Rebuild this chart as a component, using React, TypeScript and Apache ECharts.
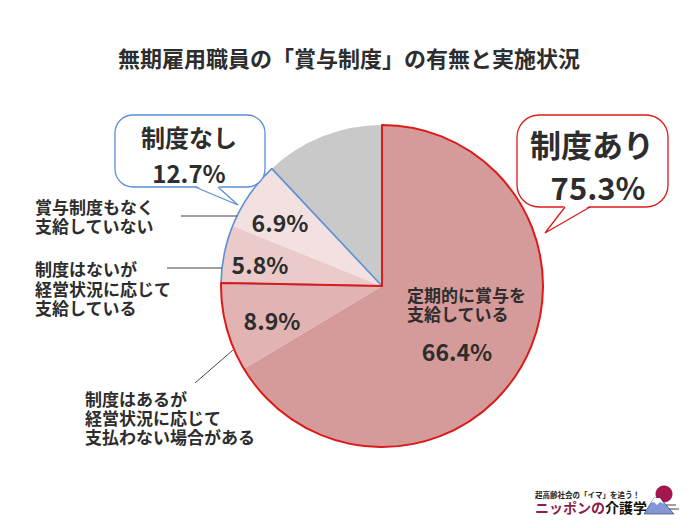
import React, { useEffect, useRef } from "react";
import * as echarts from "echarts";

const titleText = "無期雇用職員の「賞与制度」の有無と実施状況";
const categories = [
  "定期的に賞与を\n支給している",
  "制度はあるが\n経営状況に応じて\n支払わない場合がある",
  "制度はないが\n経営状況に応じて\n支給している",
  "賞与制度もなく\n支給していない",
  "無回答",
];
const values = [66.4, 8.9, 5.8, 6.9, 12.0];
const sliceColors = ["#d59a9a", "#e2b3b3", "#ebcaca", "#f3e0e0", "#c9c9c9"];
const groupNames = ["制度あり", "制度なし", "その他"];
const groupValues = [75.3, 12.7, 12.0];

const FONT = '"Noto Sans CJK JP", "Noto Sans", sans-serif';
const DARK = "#2d2d2d";
const RED = "#dd1a1a";
const BLUE = "#5b8fd6";

export default function App() {
  const ref = useRef<HTMLDivElement>(null);
  useEffect(() => {
    if (!ref.current) return;
    const chart = echarts.init(ref.current, null, { renderer: "svg" });
    const radius = 161;
    const pct = (v: number) => v.toFixed(1) + "%";

    const txt = (text: string, x: number, y: number, size: number, align = "left", fill = DARK) => ({
      type: "text",
      z: 100,
      style: {
        text,
        x,
        y,
        fontSize: size,
        fontWeight: "bold",
        fontFamily: FONT,
        fill,
        align,
        verticalAlign: "middle",
      },
    });
    // multi-line block: one text per line, centred on yc
    const block = (text: string, x: number, yc: number, size: number, lh: number, align = "left") => {
      const lines = text.split("\n");
      const y0 = yc - ((lines.length - 1) * lh) / 2;
      return lines.map((l, i) => txt(l, x, y0 + i * lh, size, align));
    };
    const seg = (x1: number, y1: number, x2: number, y2: number) => ({
      type: "line",
      z: 100,
      shape: { x1, y1, x2, y2 },
      style: { stroke: "#444", lineWidth: 1 },
    });
    const bubble = (
      x: number, y: number, w: number, h: number, r: number,
      bx1: number, bx2: number, tx: number, ty: number, color: string
    ) => [
      {
        type: "rect",
        z: 90,
        shape: { x, y, width: w, height: h, r },
        style: { fill: "#fff", stroke: color, lineWidth: 1.3 },
      },
      {
        type: "polygon",
        z: 91,
        shape: { points: [[bx1, y + h - 1.5], [tx, ty], [bx2, y + h - 1.5]] },
        style: { fill: "#fff" },
      },
      {
        type: "polyline",
        z: 92,
        shape: { points: [[bx1, y + h], [tx, ty], [bx2, y + h]] },
        style: { stroke: color, lineWidth: 1.3, fill: null },
      },
    ];
    const overlay = (which: number, color: string, width: number, z: number) => ({
      type: "pie",
      center: [382, 286],
      radius: [0, radius],
      startAngle: 90,
      silent: true,
      z,
      label: { show: false },
      labelLine: { show: false },
      data: groupNames.map((name, i) => ({
        name,
        value: groupValues[i],
        itemStyle: {
          color: "rgba(0,0,0,0)",
          borderColor: i === which ? color : "rgba(0,0,0,0)",
          borderWidth: i === which ? width : 0,
        },
      })),
    });

    chart.setOption({
      animation: false,
      backgroundColor: "#ffffff",
      series: [
        {
          type: "pie",
          center: [382, 286],
          radius: [0, radius],
          startAngle: 90,
          clockwise: true,
          silent: true,
          label: { show: false },
          labelLine: { show: false },
          itemStyle: { borderWidth: 0 },
          data: categories.map((name, i) => ({
            name,
            value: values[i],
            itemStyle: { color: sliceColors[i] },
          })),
        },
        overlay(1, BLUE, 1.6, 3),
        overlay(0, RED, 2, 4),
      ],
      graphic: [
        txt(titleText, 349, 57, 22, "center"),
        ...bubble(115, 115, 150, 72, 18, 195, 218, 238, 205, BLUE),
        txt(groupNames[1], 189, 136, 24, "center"),
        txt(pct(groupValues[1]), 189, 172, 24, "center"),
        ...bubble(517, 115, 151, 92, 22, 565, 590, 545, 233, RED),
        txt(groupNames[0], 592, 143, 31, "center"),
        txt(pct(groupValues[0]), 598, 186, 31, "center"),
        ...block(categories[0], 407, 304, 17, 19),
        txt(pct(values[0]), 457, 351, 23, "center"),
        txt(pct(values[1]), 272, 320, 23, "center"),
        txt(pct(values[2]), 260, 264, 23, "center"),
        txt(pct(values[3]), 280, 222, 23, "center"),
        ...block(categories[3], 35, 216, 17, 19),
        seg(181, 216, 237, 216),
        ...block(categories[2], 35, 288, 17, 19.5),
        seg(167, 268, 222, 268),
        ...block(categories[1], 85, 417, 17, 19),
        seg(195, 383, 233, 350),
        // logo
        txt("超高齢社会の「イマ」を追う！", 535, 494, 7.5, "left", "#222"),
        {
          type: "text",
          z: 100,
          style: {
            text: "{a|ニッポンの}{b|介護学}",
            x: 535,
            y: 507,
            verticalAlign: "middle",
            rich: {
              a: { fontSize: 14, fontWeight: "bold", fontFamily: FONT, fill: "#8c1d4f" },
              b: { fontSize: 14, fontWeight: "bold", fontFamily: FONT, fill: "#111" },
            },
          },
        },
        { type: "circle", z: 99, shape: { cx: 664, cy: 494, r: 8.5 }, style: { fill: "#a3154e" } },
        {
          type: "polygon",
          z: 100,
          shape: { points: [[644, 514], [654, 498], [660, 498], [674, 514]] },
          style: { fill: "#8197d8", stroke: "#334", lineWidth: 0.6 },
        },
        {
          type: "polygon",
          z: 101,
          shape: { points: [[651, 503], [654, 498], [660, 498], [664, 504], [660, 502], [657, 505], [654, 502]] },
          style: { fill: "#ffffff" },
        },
        seg(666, 505, 676, 505),
        seg(669, 509, 679, 509),
      ],
    });
    return () => chart.dispose();
  }, []);
  return (
    <div
      ref={ref}
      style={{ position: "absolute", left: 0, top: 0, width: 700, height: 528 }}
    />
  );
}
